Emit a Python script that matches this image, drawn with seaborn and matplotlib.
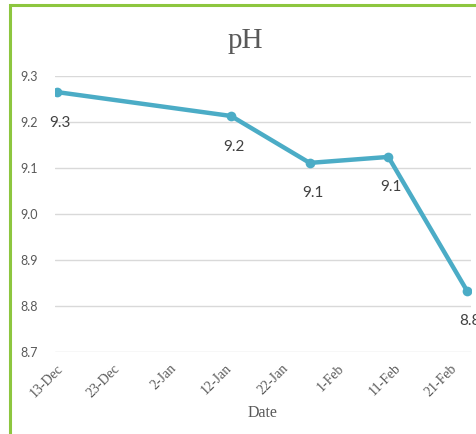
import numpy as np
import pandas as pd
import matplotlib.pyplot as plt
import matplotlib.dates as mdates
from matplotlib.patches import Rectangle
import seaborn as sns

# 데이터
dates = ['2019-12-13', '2020-01-13', '2020-01-27', '2020-02-10', '2020-02-24']
ph = [9.265, 9.213, 9.111, 9.124, 8.833]
tick_dates = ['2019-12-13', '2019-12-23', '2020-01-02', '2020-01-12',
              '2020-01-22', '2020-02-01', '2020-02-11', '2020-02-21']
y_ticks = [8.7, 8.8, 8.9, 9.0, 9.1, 9.2, 9.3]

df = pd.DataFrame({'Date': pd.to_datetime(dates), 'pH': ph})

sns.set_theme(style='white')
plt.rcParams['font.family'] = ['Lato', 'DejaVu Sans']

fig = plt.figure(figsize=(4.76, 4.34), dpi=100)
ax = fig.add_axes([0.1155, 0.189, 0.8735, 0.636])

sns.lineplot(data=df, x='Date', y='pH', color='#4BACC6', linewidth=3.2,
             marker='o', markersize=7, markeredgewidth=0, ax=ax)

# 데이터 레이블
for d, v in zip(df['Date'], df['pH']):
    ax.annotate(f'{v:.1f}', (d, v), xytext=(2, -22), textcoords='offset points',
                ha='center', va='center', fontsize=11, color='#404040',
                annotation_clip=False)

ax.set_ylim(8.7, 9.3)
ax.set_yticks(y_ticks)
ax.set_yticklabels([f'{t:.1f}' for t in y_ticks])
ax.set_xlim(pd.Timestamp('2019-12-12 16:00'), pd.Timestamp('2020-02-24 16:00'))
ax.set_xticks(pd.to_datetime(tick_dates))
ax.xaxis.set_major_formatter(mdates.DateFormatter('%-d-%b'))

ax.grid(axis='y', color='#D9D9D9', linewidth=1)
for s in ax.spines.values():
    s.set_visible(False)
ax.tick_params(axis='y', colors='#595959', labelsize=9, length=0, pad=12)
ax.tick_params(axis='x', colors='#595959', labelsize=10, length=0, pad=7)
for lbl in ax.get_xticklabels():
    lbl.set_rotation(45)
    lbl.set_ha('right')
    lbl.set_rotation_mode('anchor')
    lbl.set_family('Liberation Serif')

ax.set_ylabel('')
ax.set_xlabel('Date', family='Liberation Serif', fontsize=11.5, color='#595959',
              labelpad=4)
fig.text(0.515, 0.905, 'pH', family='Liberation Serif', fontsize=21,
         color='#595959', ha='center', va='center')

# 초록 테두리
fig.patches.append(Rectangle((0.021, -0.1), 1.2, 1.088, transform=fig.transFigure,
                             fill=False, edgecolor='#8DC63F', linewidth=2.2))

fig.savefig('out.png', dpi=100)
